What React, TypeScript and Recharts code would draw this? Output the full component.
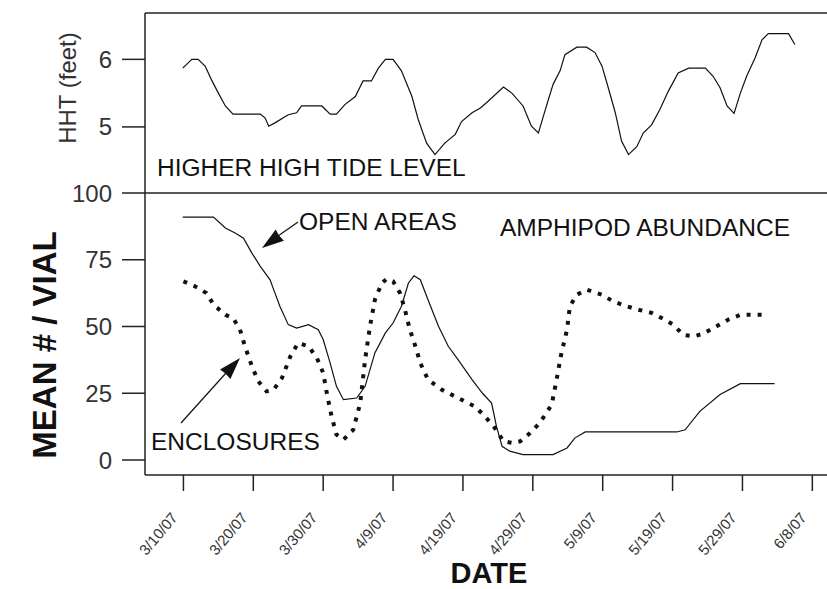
import React from 'react';
import { LineChart, Line, XAxis, YAxis, ReferenceLine } from 'recharts';

// days after 3/10/07
const hhtDays = [-0.1, 1.2, 2.1, 3.1, 4.0, 5.0, 6.0, 7.1, 11.0, 11.7, 12.2, 13.1, 15.0, 16.2, 16.9, 19.8, 21.0, 21.9, 23.1, 24.6, 25.7, 26.9, 27.9, 28.9, 30.0, 31.2, 32.7, 33.6, 34.8, 36.0, 37.4, 38.9, 39.8, 41.3, 42.5, 43.6, 45.8, 47.0, 48.6, 49.8, 50.8, 51.8, 52.9, 53.9, 54.6, 56.3, 57.7, 58.9, 59.9, 60.8, 61.8, 62.7, 63.7, 64.9, 65.8, 67.0, 68.2, 69.4, 70.8, 72.3, 74.7, 75.8, 76.8, 77.8, 78.8, 79.7, 80.6, 81.8, 82.8, 83.7, 86.6, 87.5];
const hhtFeet = [5.87, 6.0, 6.0, 5.9, 5.7, 5.5, 5.31, 5.19, 5.19, 5.13, 5.01, 5.06, 5.18, 5.21, 5.31, 5.31, 5.19, 5.19, 5.33, 5.45, 5.68, 5.68, 5.87, 6.0, 6.0, 5.83, 5.45, 5.11, 4.76, 4.59, 4.76, 4.89, 5.08, 5.21, 5.28, 5.38, 5.59, 5.5, 5.31, 5.01, 4.91, 5.26, 5.63, 5.83, 6.07, 6.18, 6.18, 6.1, 5.9, 5.58, 5.21, 4.79, 4.59, 4.71, 4.91, 5.03, 5.26, 5.53, 5.8, 5.87, 5.87, 5.75, 5.58, 5.31, 5.2, 5.5, 5.75, 6.02, 6.29, 6.38, 6.38, 6.22];

const openDays = [-0.1, 4.3, 6.0, 7.4, 8.6, 9.8, 11.0, 12.4, 13.1, 13.8, 15.0, 16.2, 17.9, 19.3, 20.0, 21.0, 21.9, 22.9, 24.8, 26.0, 27.4, 28.9, 30.0, 31.2, 32.2, 33.0, 33.9, 35.0, 36.5, 37.9, 39.3, 41.3, 42.8, 44.1, 44.8, 45.6, 46.7, 48.6, 52.9, 54.9, 56.0, 57.5, 70.6, 71.8, 73.9, 76.8, 79.7, 84.6];
const openMean = [91, 91, 86.9, 85, 83.1, 77.5, 72.5, 67.5, 62.5, 57.6, 50.7, 49.4, 50.7, 48.8, 45.1, 36.3, 27.6, 22.6, 23.2, 27.6, 40.1, 47.6, 51.3, 57.6, 66.3, 69, 67.5, 60, 50.1, 42.6, 37.6, 30.1, 25, 21.3, 12.6, 5.1, 3.3, 2, 2, 4.5, 8.2, 10.5, 10.5, 11.3, 18.2, 24.5, 28.6, 28.6];

const enclDays = [0, 1.7, 3.3, 4.3, 6.0, 7.1, 8.1, 8.8, 9.8, 10.7, 11.9, 12.9, 14.1, 15.3, 16.4, 17.9, 19.1, 20.0, 20.6, 21.2, 21.9, 22.9, 24.3, 25.3, 26.0, 26.7, 27.4, 28.4, 29.1, 30.0, 31.0, 31.7, 32.4, 33.2, 33.9, 35.0, 37.0, 39.3, 41.7, 42.9, 44.4, 45.8, 47.0, 48.2, 49.6, 51.0, 52.7, 53.4, 54.1, 54.9, 55.3, 56.3, 57.7, 59.9, 61.5, 63.4, 65.1, 67.0, 68.7, 70.1, 71.5, 73.0, 74.4, 76.3, 78.0, 79.7, 83.2];
const enclMean = [66.9, 65, 62.5, 58.2, 54.4, 53.2, 48.8, 42.6, 35.1, 29.5, 25.7, 26.3, 30.7, 38.8, 43.8, 42.6, 38.2, 32.6, 23.9, 16.4, 9.5, 7.6, 11.3, 21.3, 37.6, 50.1, 60, 66.3, 67.8, 66.9, 62.5, 56.3, 48.8, 42.6, 36.3, 30.1, 26.3, 23.2, 20.1, 17, 12.6, 7, 6.4, 7, 10.1, 13.9, 20.7, 30.1, 40.1, 48.8, 57.6, 61.9, 63.8, 61.9, 59.4, 57.6, 56.3, 55.1, 52.8, 50.7, 46.9, 46.3, 47.3, 50.1, 52.6, 54.4, 54.4];

const dateTicks = [0, 10, 20, 30, 40, 50, 60, 70, 80, 90];
const dateLabels = ['3/10/07', '3/20/07', '3/30/07', '4/9/07', '4/19/07', '4/29/07', '5/9/07', '5/19/07', '5/29/07', '6/8/07'];
const hhtTicks = [5, 6];
const meanTicks = [0, 25, 50, 75, 100];

const zip = (xs: number[], ys: number[]) => xs.map((d, i) => ({ d, v: ys[i] }));
const hhtData = zip(hhtDays, hhtFeet);
const openData = zip(openDays, openMean);
const enclData = zip(enclDays, enclMean);

const FONT = '"Liberation Sans", Arial, sans-serif';
const INK = '#222';
const X_DOMAIN: [number, number] = [-5.5, 92.1];
const tickStyle = { fontSize: 24, fill: '#333', fontFamily: FONT };

const DateTick = (props: any) => {
  const { x, y, payload } = props;
  const i = dateTicks.indexOf(payload.value);
  const ax = x - 5;
  const ay = y + 25;
  return (
    <text x={ax} y={ay} transform={`rotate(-50 ${ax} ${ay})`} textAnchor="end"
      fontSize={15} fontFamily={FONT} fill="#333">
      {dateLabels[i]}
    </text>
  );
};

export default function App() {
  return (
    <div style={{ position: 'absolute', left: 0, top: 0, width: 827, height: 589, background: '#fff', overflow: 'hidden' }}>
      {/* lower panel: amphipod abundance */}
      <div style={{ position: 'absolute', left: 0, top: 0 }}>
        <LineChart width={827} height={589} margin={{ top: 193, right: 0, left: 0, bottom: 0 }}>
          <XAxis dataKey="d" type="number" domain={X_DOMAIN} ticks={dateTicks} allowDataOverflow
            height={114} tickSize={16} tickMargin={2} tick={<DateTick />}
            stroke={INK} axisLine={{ stroke: INK, strokeWidth: 1.5 }} tickLine={{ stroke: INK, strokeWidth: 1.5 }} />
          <YAxis type="number" domain={[-5.62, 100]} ticks={meanTicks} width={145} allowDataOverflow
            tickSize={23} tickMargin={10} tick={tickStyle}
            axisLine={{ stroke: INK, strokeWidth: 1.5 }} tickLine={{ stroke: INK, strokeWidth: 1.5 }} />
          <ReferenceLine y={100} stroke={INK} strokeWidth={1.5} />
          <Line data={openData} dataKey="v" type="linear" stroke="#111" strokeWidth={1.2} dot={false} isAnimationActive={false} />
          <Line data={enclData} dataKey="v" type="linear" stroke="#111" strokeWidth={4} strokeDasharray="4 7" dot={false} isAnimationActive={false} />
        </LineChart>
      </div>
      {/* upper panel: higher high tide */}
      <div style={{ position: 'absolute', left: 0, top: 0 }}>
        <LineChart width={827} height={200} margin={{ top: 13, right: 0, left: 0, bottom: 7 }}>
          <XAxis dataKey="d" type="number" domain={X_DOMAIN} hide allowDataOverflow />
          <YAxis type="number" domain={[4.022, 6.686]} ticks={hhtTicks} width={145} allowDataOverflow
            tickSize={23} tickMargin={10} tick={tickStyle}
            axisLine={{ stroke: INK, strokeWidth: 1.5 }} tickLine={{ stroke: INK, strokeWidth: 1.5 }} />
          <ReferenceLine y={6.686} stroke={INK} strokeWidth={1.5} />
          <Line data={hhtData} dataKey="v" type="linear" stroke="#111" strokeWidth={1.2} dot={false} isAnimationActive={false} />
        </LineChart>
      </div>
      {/* labels and arrows */}
      <svg width={827} height={589} style={{ position: 'absolute', left: 0, top: 0, pointerEvents: 'none' }}
        fontFamily={FONT} fill="#111">
        <text x={67} y={88} fontSize={24} textAnchor="middle" dominantBaseline="central" transform="rotate(-90 67 88)" fill="#333">HHT (feet)</text>
        <text x={44} y={345} fontSize={33} fontWeight="bold" textAnchor="middle" dominantBaseline="central" transform="rotate(-90 44 345)">MEAN # / VIAL</text>
        <text x={489} y={583} fontSize={29} fontWeight="bold" textAnchor="middle">DATE</text>
        <text x={157} y={176} fontSize={24.5}>HIGHER HIGH TIDE LEVEL</text>
        <text x={299} y={230} fontSize={24.5}>OPEN AREAS</text>
        <text x={500} y={236} fontSize={24.5}>AMPHIPOD ABUNDANCE</text>
        <text x={151} y={450} fontSize={24.5}>ENCLOSURES</text>
        <line x1={298} y1={222} x2={278} y2={236} stroke="#111" strokeWidth={1.2} />
        <polygon points="262,248 283.9,240.8 279,235.5 275.7,229.4" fill="#111" />
        <line x1={181} y1={423} x2={226} y2={373} stroke="#111" strokeWidth={1.2} />
        <polygon points="240,358 230.4,379 225.5,373.5 220,369.6" fill="#111" />
      </svg>
    </div>
  );
}
